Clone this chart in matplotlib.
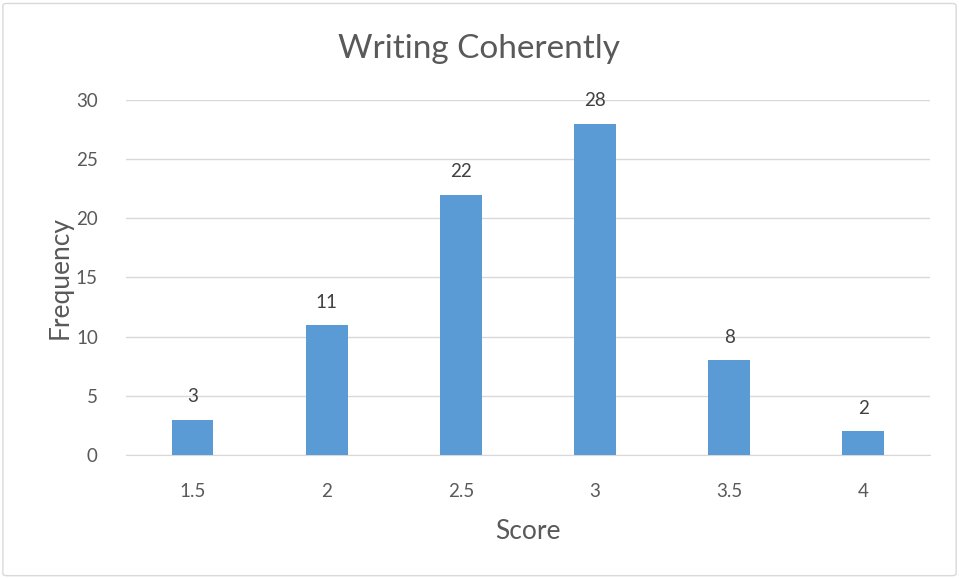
import matplotlib.pyplot as plt
from matplotlib.patches import FancyBboxPatch

# data
scores = ["1.5", "2", "2.5", "3", "3.5", "4"]
freq = [3, 11, 22, 28, 8, 2]

plt.rcParams['font.family'] = ['Lato', 'DejaVu Sans']

fig = plt.figure(figsize=(9.59, 5.78), dpi=100)
ax = fig.add_axes([0.131, 0.2128, 0.839, 0.6142])

# light border round the chart area
fig.patches.append(FancyBboxPatch((0.003, 0.004), 0.994, 0.99, boxstyle="round,pad=0,rounding_size=0.004",
                                  transform=fig.transFigure, fill=False, edgecolor='#D9D9D9', linewidth=1))

x = range(len(scores))
bars = ax.bar(x, freq, width=0.31, color='#5B9BD5', zorder=3)
for xi, v in zip(x, freq):
    ax.text(xi, v + 1.2, str(v), ha='center', va='bottom', fontsize=13.5, color='#404040')

ax.set_xlim(-0.5, 5.5)
ax.set_ylim(0, 30)
ax.set_yticks(range(0, 31, 5))
ax.set_xticks(list(x))
ax.set_xticklabels(scores)
ax.grid(axis='y', color='#D9D9D9', linewidth=1, zorder=0)
for s in ['top', 'right', 'left']:
    ax.spines[s].set_visible(False)
ax.spines['bottom'].set_color('#D9D9D9')
ax.tick_params(axis='x', length=0, labelsize=13.5, colors='#595959', pad=20)
ax.tick_params(axis='y', length=0, labelsize=13.5, colors='#595959', pad=20)

fig.text(0.5, 0.916, "Writing Coherently", ha='center', va='center', fontsize=24, color='#595959')
ax.set_xlabel("Score", fontsize=19, color='#595959', labelpad=14)
ax.set_ylabel("Frequency", fontsize=19, color='#595959', labelpad=2)

fig.savefig("out.png", dpi=100)
